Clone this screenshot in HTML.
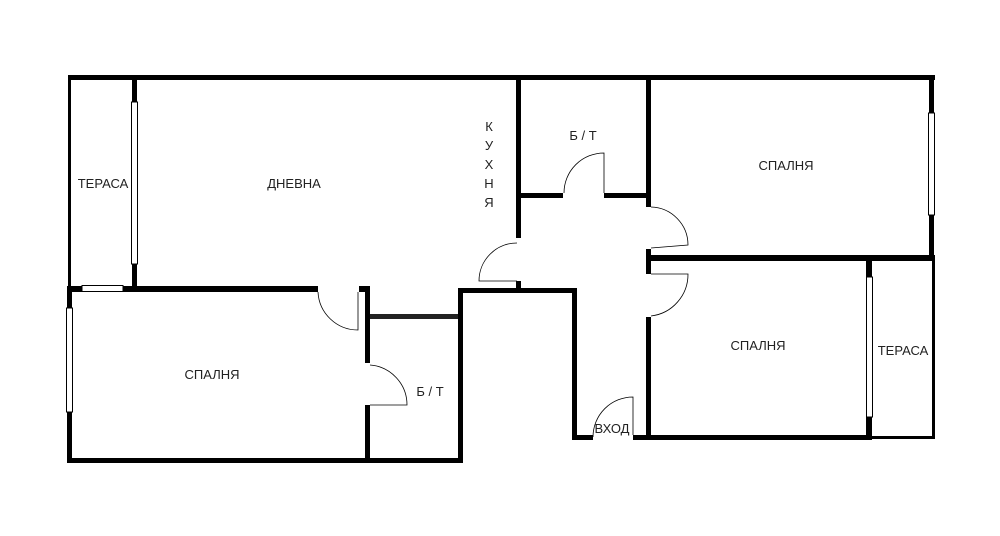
<!DOCTYPE html>
<html><head><meta charset="utf-8"><style>
html,body{margin:0;padding:0;background:#fff;}
svg{display:block}
text{font-family:"Liberation Sans","DejaVu Sans",sans-serif;font-size:13px;fill:#222;text-anchor:middle;}
</style></head><body>
<svg width="1000" height="536" viewBox="0 0 1000 536" xmlns="http://www.w3.org/2000/svg">
<rect width="1000" height="536" fill="#fff"/>
<g fill="#000">
<!-- top wall -->
<rect x="68" y="75" width="867" height="5"/>
<!-- terrace left thin -->
<rect x="68" y="75" width="3" height="214"/>
<!-- wall terrace/living -->
<rect x="132" y="78" width="5" height="212"/>
<!-- horizontal wall y 286 -->
<rect x="68" y="286" width="250" height="6"/>
<rect x="359" y="286" width="11" height="6"/>
<!-- left bedroom outer left -->
<rect x="67" y="286" width="5" height="177"/>
<!-- bottom wall -->
<rect x="67" y="458" width="396" height="5"/>
<!-- wall x 365 -->
<rect x="365" y="286" width="5" height="77"/>
<rect x="365" y="405" width="5" height="58"/>
<!-- bath top wall -->
<rect x="370" y="314" width="90" height="5" fill="#222"/>
<!-- bath right wall -->
<rect x="458" y="288" width="5" height="175"/>
<!-- hallway top -->
<rect x="458" y="288" width="119" height="5"/>
<rect x="572" y="288" width="5" height="152"/>
<!-- kitchen right wall -->
<rect x="516" y="78" width="5" height="160"/>
<rect x="516" y="281" width="5" height="11"/>
<!-- bath2 bottom -->
<rect x="516" y="193" width="47" height="5"/>
<rect x="604" y="193" width="47" height="5"/>
<!-- wall x 646 -->
<rect x="646" y="78" width="5" height="129"/>
<rect x="646" y="249" width="5" height="25"/>
<rect x="646" y="317" width="5" height="123"/>
<!-- horizontal 255 -->
<rect x="646" y="255" width="289" height="6"/>
<!-- right outer wall -->
<rect x="929" y="78" width="5" height="183"/>
<!-- wall x 866 -->
<rect x="866" y="258" width="6" height="182"/>
<!-- bottom right wall -->
<rect x="572" y="435" width="21" height="5"/>
<rect x="633" y="435" width="239" height="5"/>
<!-- terrace right thin -->
<rect x="932" y="258" width="3" height="181"/>
<rect x="870" y="436" width="65" height="3"/>
</g>
<!-- windows -->
<g fill="#fff" stroke="#000" stroke-width="1">
<rect x="131.5" y="102" width="6" height="162"/>
<rect x="82" y="285.5" width="41" height="6"/>
<rect x="66.5" y="308" width="6" height="104"/>
<rect x="928.5" y="113" width="6" height="102"/>
<rect x="866.5" y="277" width="6" height="140"/>
</g>
<!-- doors -->
<g fill="none" stroke="#000" stroke-width="0.8">
<path d="M517,243 A38,38 0 0 0 479,281 L517,281"/>
<path d="M604,193 L604,153 A40,40 0 0 0 564,193"/>
<path d="M651,207 A38,38 0 0 1 688,245 L651,248"/>
<path d="M651,274 L688,274 A42,42 0 0 1 651,316"/>
<path d="M358,292 L358,330 A40,40 0 0 1 318,292"/>
<path d="M370,405 L407,405 A40,40 0 0 0 370,365"/>
<path d="M633,435 L633,397 A40,40 0 0 0 593,437"/>
</g>
<g>
<text x="103" y="188">ТЕРАСА</text>
<text x="294" y="188">ДНЕВНА</text>
<text x="489" y="131">К</text>
<text x="489" y="150">У</text>
<text x="489" y="169">Х</text>
<text x="489" y="188">Н</text>
<text x="489" y="207">Я</text>
<text x="212" y="379">СПАЛНЯ</text>
<text x="430" y="396">Б / Т</text>
<text x="583" y="140">Б / Т</text>
<text x="786" y="170">СПАЛНЯ</text>
<text x="758" y="350">СПАЛНЯ</text>
<text x="903" y="355">ТЕРАСА</text>
<text x="612" y="433">ВХОД</text>
</g>
</svg>
</body></html>
